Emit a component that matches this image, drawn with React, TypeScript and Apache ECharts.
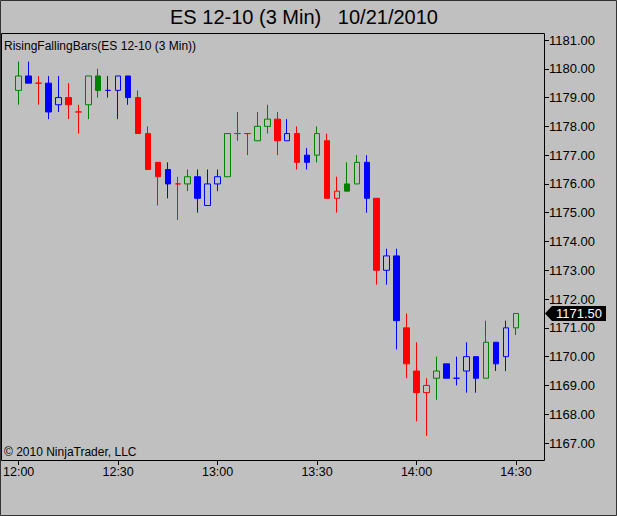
import React, { useEffect, useRef } from 'react';
import * as echarts from 'echarts';

const BG = '#C0C0C0';
const COLORS: Record<string, string> = { G: '#008000', R: '#FF0000', B: '#0000FF' };
const FONT = '"Liberation Sans", Arial, sans-serif';

// RisingFallingBars colour of each 3-minute bar (12:00 .. 14:30)
const barColors = [
  'G', 'B', 'R', 'B', 'B', 'R', 'R', 'G', 'G', 'B',
  'B', 'B', 'R', 'R', 'R', 'B', 'R', 'G', 'B', 'B',
  'B', 'G', 'G', 'R', 'G', 'G', 'R', 'B', 'R', 'B',
  'G', 'R', 'R', 'G', 'G', 'B', 'R', 'B', 'B', 'R',
  'R', 'R', 'G', 'B', 'B', 'B', 'B', 'G', 'B', 'B',
  'G',
];
const opens = [
  1179.25, 1179.75, 1179.5, 1179.5, 1178.75, 1179, 1178.5, 1178.75, 1179.75, 1179.25,
  1179.25, 1179.75, 1179, 1177.75, 1176.75, 1176.5, 1176, 1176, 1176.25, 1175.25,
  1176, 1176.25, 1177.75, 1177.75, 1177.5, 1178, 1178.25, 1177.5, 1177.75, 1177,
  1177, 1177.5, 1175.5, 1176, 1176, 1176.75, 1175.5, 1173, 1173.5, 1171,
  1169.5, 1168.75, 1169.25, 1169.75, 1169.25, 1169.5, 1170, 1169.25, 1170.5, 1170,
  1171,
];
const highs = [
  1180.25, 1180.25, 1179.75, 1179.75, 1179.75, 1179.5, 1178.75, 1179.75, 1180, 1179.75,
  1179.75, 1179.75, 1179.25, 1178, 1176.75, 1176.75, 1176.25, 1176.5, 1176.5, 1176.5,
  1176.5, 1177.75, 1178.5, 1177.75, 1178.5, 1178.75, 1178.5, 1178.25, 1178, 1177.25,
  1178, 1177.75, 1176.25, 1176.75, 1177, 1177, 1175.5, 1173.75, 1173.75, 1171.5,
  1170.5, 1169.25, 1170, 1169.75, 1170, 1170.5, 1170, 1171.25, 1170.5, 1171.25,
  1171.5,
];
const lows = [
  1178.75, 1179.5, 1178.75, 1178.25, 1178.5, 1178.25, 1177.75, 1178.25, 1179, 1179,
  1178.25, 1178.75, 1177.75, 1176.5, 1175.25, 1175.5, 1174.75, 1175.75, 1175, 1175.25,
  1175.75, 1176.25, 1177.5, 1177, 1177.5, 1177.75, 1177, 1177.5, 1176.5, 1176.5,
  1176.75, 1175.5, 1175, 1175.75, 1176, 1175, 1172.5, 1172.5, 1170.25, 1169.25,
  1167.75, 1167.25, 1168.5, 1169.25, 1169, 1168.75, 1168.75, 1169.25, 1169.5, 1169.5,
  1170.75,
];
const closes = [
  1179.75, 1179.5, 1179.5, 1178.5, 1179, 1178.75, 1178.5, 1179.75, 1179.25, 1179.25,
  1179.75, 1179, 1177.75, 1176.5, 1176.25, 1176, 1176, 1176.25, 1175.5, 1176,
  1176.25, 1177.75, 1177.75, 1177.75, 1178, 1178.25, 1177.5, 1177.75, 1176.75, 1176.75,
  1177.75, 1175.5, 1175.75, 1175.75, 1176.75, 1175.5, 1173, 1173.5, 1171.25, 1169.75,
  1168.75, 1169, 1169.5, 1169.25, 1169.25, 1170, 1169.25, 1170.5, 1169.75, 1171,
  1171.5,
];
const timeLabels = ['12:00', '12:30', '13:00', '13:30', '14:00', '14:30'];
const barsPerLabel = 10;
const priceMin = 1167;
const priceMax = 1181;

// grid spans first bar .. last bar horizontally, lowest .. highest price tick vertically
const GRID = { left: 16, top: 40, right: 101, bottom: 73 };
// plot frame (decoration)
const FRAME = { x: 1.5, y: 33.5, width: 543, height: 427 };

export default function App() {
  const ref = useRef<HTMLDivElement>(null);
  useEffect(() => {
    document.body.style.margin = '0';
    if (!ref.current) return;
    const chart = echarts.init(ref.current, undefined, { renderer: 'svg' });
    const data = opens.map((o, i) => {
      const c = COLORS[barColors[i]];
      const fill = closes[i] > o ? BG : c;
      return {
        value: [i, o, closes[i], lows[i], highs[i]],
        itemStyle: {
          color: fill,
          color0: fill,
          borderColor: c,
          borderColor0: c,
          borderColorDoji: c,
          borderWidth: 1,
        },
      };
    });
    const frameRight = FRAME.x + FRAME.width;
    const frameBottom = FRAME.y + FRAME.height;
    chart.setOption({
      animation: false,
      backgroundColor: BG,
      textStyle: { fontFamily: FONT },
      grid: { ...GRID },
      xAxis: {
        type: 'value',
        min: 0,
        max: opens.length - 1,
        interval: barsPerLabel,
        offset: frameBottom - (516 - GRID.bottom) - 0.5,
        axisLine: { show: false, onZero: false },
        splitLine: { show: false },
        axisTick: { show: true, length: 5, lineStyle: { color: '#000' } },
        axisLabel: {
          margin: 5,
          color: '#000',
          fontSize: 12.5,
          fontFamily: FONT,
          showMinLabel: true,
          showMaxLabel: true,
          formatter: (v: number) => timeLabels[Math.round(v / barsPerLabel)] ?? '',
        },
      },
      yAxis: {
        type: 'value',
        position: 'right',
        min: priceMin,
        max: priceMax,
        interval: 1,
        offset: frameRight - (617 - GRID.right) - 0.5,
        axisLine: { show: false, onZero: false },
        splitLine: { show: false },
        axisTick: { show: true, length: 5, lineStyle: { color: '#000' } },
        axisLabel: {
          margin: 5,
          color: '#000',
          fontSize: 13,
          fontFamily: FONT,
          showMinLabel: true,
          showMaxLabel: true,
          formatter: (v: number) => v.toFixed(2),
        },
      },
      series: [
        {
          type: 'candlestick',
          barWidth: 6,
          clip: false,
          data,
        },
      ],
    });

    const last = closes[closes.length - 1];
    const yPix = chart.convertToPixel({ yAxisIndex: 0 }, last) as number;
    const axisX = Math.floor(frameRight);
    chart.setOption({
      graphic: [
        {
          type: 'rect',
          shape: { x: 0.5, y: 0.5, width: 616, height: 515 },
          style: { fill: 'none', stroke: '#333', lineWidth: 1 },
          silent: true,
        },
        {
          type: 'rect',
          shape: { ...FRAME },
          style: { fill: 'none', stroke: '#000', lineWidth: 1 },
          silent: true,
        },
        {
          type: 'text',
          x: 304,
          y: 17,
          style: {
            text: 'ES 12-10 (3 Min)\u00a0\u00a0 10/21/2010',
            fontSize: 20,
            fontFamily: FONT,
            fill: '#000',
            align: 'center',
            verticalAlign: 'middle',
          },
        },
        {
          type: 'text',
          x: 4,
          y: 46,
          style: {
            text: 'RisingFallingBars(ES 12-10 (3 Min))',
            fontSize: 12,
            fontFamily: FONT,
            fill: '#000',
            align: 'left',
            verticalAlign: 'middle',
          },
        },
        {
          type: 'text',
          x: 4,
          y: 452,
          style: {
            text: '\u00a9 2010 NinjaTrader, LLC',
            fontSize: 12,
            fontFamily: FONT,
            fill: '#000',
            align: 'left',
            verticalAlign: 'middle',
          },
        },
        {
          type: 'polygon',
          shape: {
            points: [
              [axisX + 1, yPix],
              [axisX + 8, yPix - 7.5],
              [axisX + 62, yPix - 7.5],
              [axisX + 62, yPix + 7.5],
              [axisX + 8, yPix + 7.5],
            ],
          },
          style: { fill: '#000' },
          z: 100,
        },
        {
          type: 'text',
          x: axisX + 35,
          y: yPix,
          z: 101,
          style: {
            text: last.toFixed(2),
            fontSize: 13,
            fontFamily: FONT,
            fill: '#fff',
            align: 'center',
            verticalAlign: 'middle',
          },
        },
      ],
    });
    return () => chart.dispose();
  }, []);
  return <div ref={ref} style={{ width: 617, height: 516 }} />;
}
